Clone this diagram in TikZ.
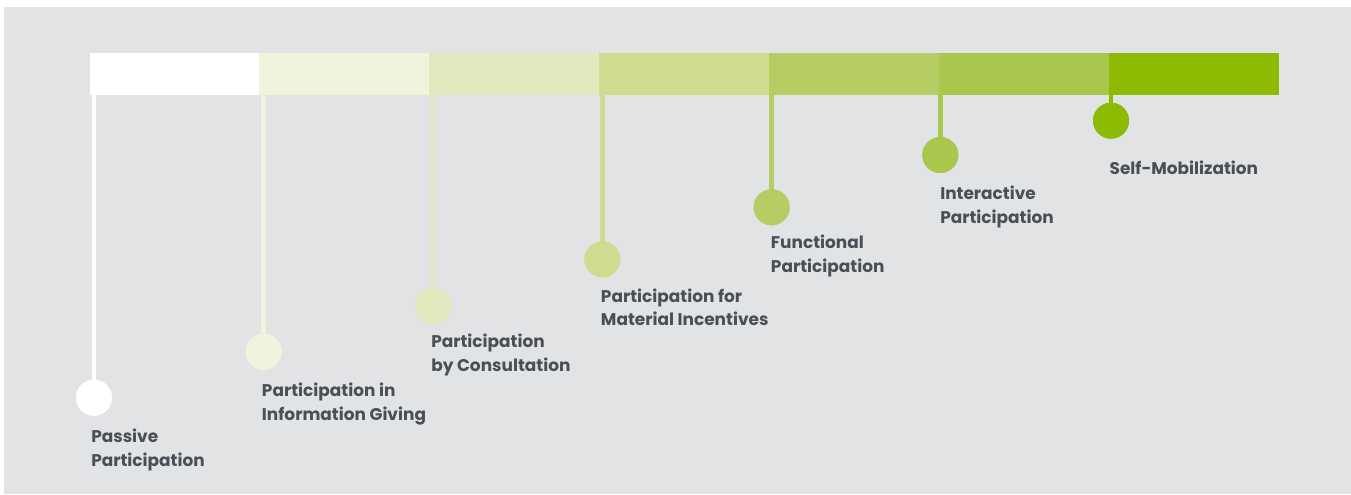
\documentclass[tikz,border=0pt]{standalone}
\usepackage{fontspec}
\setmainfont{Poppins}
\definecolor{bg}{HTML}{E2E3E5}
\definecolor{txt}{HTML}{4A4E57}
\definecolor{ca}{HTML}{FFFFFF}
\definecolor{cb}{HTML}{F1F3DD}
\definecolor{cc}{HTML}{E2E9BE}
\definecolor{cd}{HTML}{CFDC90}
\definecolor{ce}{HTML}{B5CD62}
\definecolor{cf}{HTML}{A9C74D}
\definecolor{cg}{HTML}{8DBA02}
\begin{document}
\begin{tikzpicture}[x=0.75pt,y=-0.75pt,
  seg/.style={rectangle,inner sep=0pt,minimum width=128pt,minimum height=31.5pt,draw=none},
  dot/.style={circle,inner sep=0pt,minimum size=27pt,draw=none},
  stem/.style={line width=3.4pt},
  lbl/.style={anchor=base west,inner sep=0pt,align=left,text=txt,font=\bfseries\fontsize{12.7}{17.6}\selectfont}]
\useasboundingbox (0,0) rectangle (1351,494);
\fill[white] (0,0) rectangle (1351,494);
\fill[bg] (4,7) rectangle (1351,494);
% bar segments
\node[seg,fill=ca] (s1) at (174.93,74) {};
\node[seg,fill=cb] (s2) at (344.79,74) {};
\node[seg,fill=cc] (s3) at (514.64,74) {};
\node[seg,fill=cd] (s4) at (684.50,74) {};
\node[seg,fill=ce] (s5) at (854.36,74) {};
\node[seg,fill=cf] (s6) at (1024.21,74) {};
\node[seg,fill=cg] (s7) at (1194.07,74) {};
% circles
\node[dot,fill=ca] (p1) at (94,397.7) {};
\node[dot,fill=cb] (p2) at (263.7,351.7) {};
\node[dot,fill=cc] (p3) at (433,305.7) {};
\node[dot,fill=cd] (p4) at (602.3,259.3) {};
\node[dot,fill=ce] (p5) at (771.7,207.3) {};
\node[dot,fill=cf] (p6) at (940.3,155) {};
\node[dot,fill=cg] (p7) at (1111,120.7) {};
% stems
\draw[stem,ca] (p1 |- s1.south) -- (p1.center);
\draw[stem,cb] (p2 |- s2.south) -- (p2.center);
\draw[stem,cc] (p3 |- s3.south) -- (p3.center);
\draw[stem,cd] (p4 |- s4.south) -- (p4.center);
\draw[stem,ce] (p5 |- s5.south) -- (p5.center);
\draw[stem,cf] (p6 |- s6.south) -- (p6.center);
\draw[stem,cg] (p7 |- s7.south) -- (p7.center);
% redraw circles on top
\node[dot,fill=ca] at (p1) {};
\node[dot,fill=cb] at (p2) {};
\node[dot,fill=cc] at (p3) {};
\node[dot,fill=cd] at (p4) {};
\node[dot,fill=ce] at (p5) {};
\node[dot,fill=cf] at (p6) {};
\node[dot,fill=cg] at (p7) {};
% labels (base = baseline of last line)
\node[lbl] (t1) at (91,466) {Passive\\Participation};
\node[lbl] (t2) at (261.7,420) {Participation in\\Information Giving};
\node[lbl] (t3) at (431,371) {Participation\\by Consultation};
\node[lbl] (t4) at (600.7,325.7) {Participation for\\Material Incentives};
\node[lbl] (t5) at (770.7,272) {Functional\\Participation};
\node[lbl] (t6) at (940,223.3) {Interactive\\Participation};
\node[lbl] (t7) at (1109.3,174) {Self-Mobilization};
\end{tikzpicture}
\end{document}
